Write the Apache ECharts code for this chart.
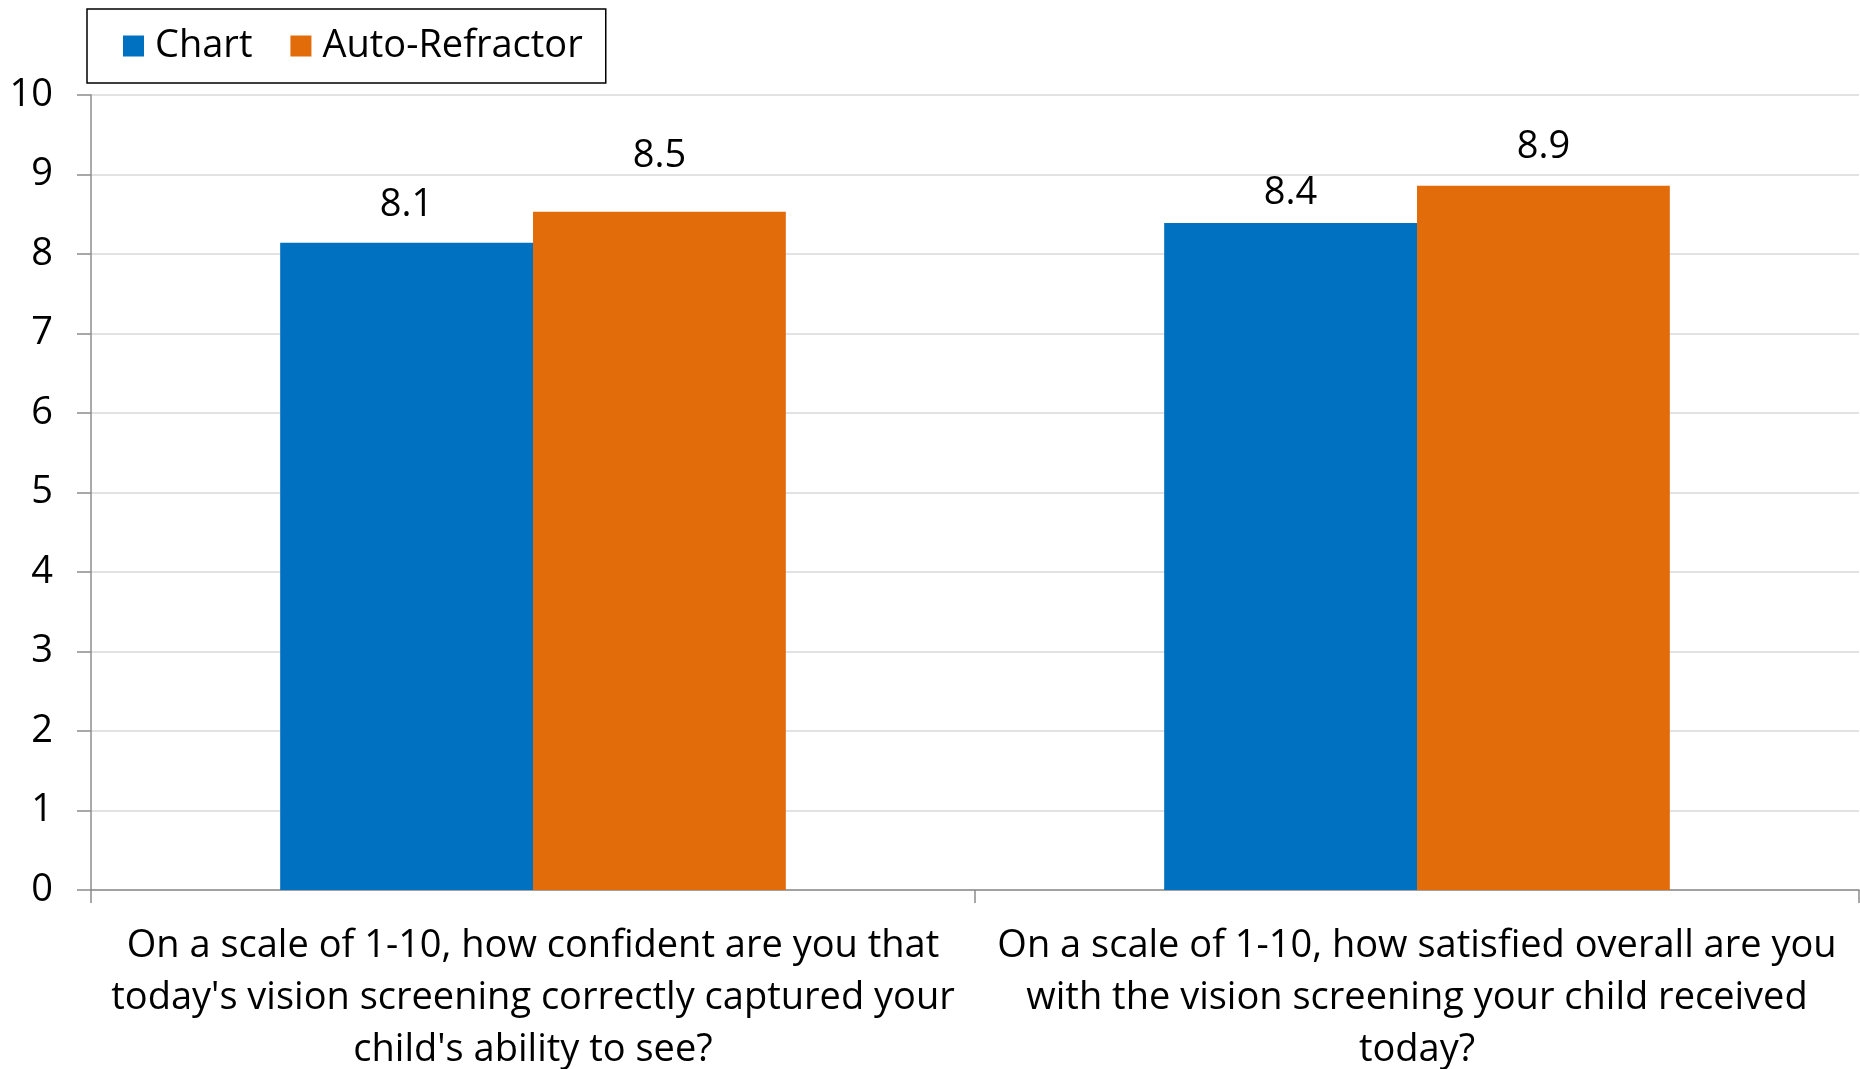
<!DOCTYPE html>
<html>
<head>
<meta charset="utf-8">
<script src="https://cdn.jsdelivr.net/npm/echarts@6/dist/echarts.min.js"></script>
<style>
html,body{margin:0;padding:0;background:#fff;overflow:hidden;}
#chart{width:1860px;height:1069px;}
</style>
</head>
<body>
<div id="chart"></div>
<script>
const categories = [
  "On a scale of 1-10, how confident are you that\ntoday's vision screening correctly captured your\nchild's ability to see?",
  "On a scale of 1-10, how satisfied overall are you\nwith the vision screening your child received\ntoday?"
];
const seriesNames = ["Chart", "Auto-Refractor"];
const chartValues = [8.14, 8.39];
const autoRefractorValues = [8.53, 8.86];
const yTicks = [0, 1, 2, 3, 4, 5, 6, 7, 8, 9, 10];

const FONT = "'Open Sans', sans-serif";
const FS = 38;
const colors = ['#0070C0', '#E36C0A'];
// label offsets above each bar (style only), per series then per category
const labelGap = [[19, 11], [37, 19]];

const chart = echarts.init(document.getElementById('chart'), null, {renderer: 'canvas'});
const mkSeries = (si, data) => ({
  name: seriesNames[si],
  type: 'bar',
  data: data.map((v, i) => ({value: v, label: {distance: labelGap[si][i]}})),
  barGap: '0%',
  barCategoryGap: '42.8%',
  itemStyle: {color: colors[si]},
  label: {
    show: true,
    position: 'top',
    fontFamily: FONT,
    fontSize: FS,
    color: '#000',
    formatter: p => p.value.toFixed(1)
  }
});

chart.setOption({
  animation: false,
  backgroundColor: '#fff',
  textStyle: {fontFamily: FONT},
  legend: {
    left: 87,
    top: 9,
    orient: 'horizontal',
    data: seriesNames,
    icon: 'rect',
    itemWidth: 21,
    itemHeight: 21,
    itemGap: 38,
    borderColor: '#000',
    borderWidth: 1.5,
    padding: [18, 23, 18, 36],
    textStyle: {fontFamily: FONT, fontSize: FS, color: '#000', padding: [0, 0, 0, 6]}
  },
  grid: {left: 91, right: 1, top: 95, bottom: 179, containLabel: false, outerBoundsMode: 'none'},
  xAxis: {
    type: 'category',
    data: categories,
    boundaryGap: true,
    axisLine: {show: true, lineStyle: {color: '#8c8c8c', width: 1.5}},
    axisTick: {show: true, length: 13, lineStyle: {color: '#8c8c8c', width: 1.5}},
    axisLabel: {
      fontFamily: FONT, fontSize: FS, color: '#000', lineHeight: 52, margin: 30,
      interval: 0, align: 'center'
    },
    splitLine: {show: false}
  },
  yAxis: {
    type: 'value',
    min: yTicks[0],
    max: yTicks[yTicks.length - 1],
    interval: yTicks[1] - yTicks[0],
    axisLine: {show: true, lineStyle: {color: '#8c8c8c', width: 1.5}},
    axisTick: {show: true, length: 14, lineStyle: {color: '#8c8c8c', width: 1.5}},
    axisLabel: {fontFamily: FONT, fontSize: FS, color: '#000', margin: 38},
    splitLine: {show: true, lineStyle: {color: '#d9d9d9', width: 1.5}}
  },
  series: [
    mkSeries(0, chartValues),
    mkSeries(1, autoRefractorValues)
  ]
});
</script>
</body>
</html>
